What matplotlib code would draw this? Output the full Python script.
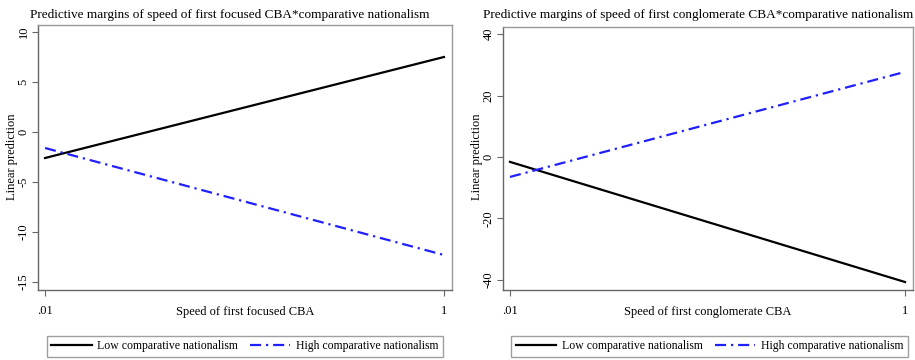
import matplotlib
matplotlib.use("Agg")
import matplotlib.pyplot as plt

plt.rcParams["font.family"] = ["Liberation Serif", "DejaVu Serif"]

speed = [0.01, 1]
speed_labels = [".01", "1"]

# focused CBA
focused_low = [-2.6, 7.5]
focused_high = [-1.6, -12.3]
focused_yticks = [10, 5, 0, -5, -10, -15]

# conglomerate CBA
conglom_low = [-1.6, -40.7]
conglom_high = [-6.5, 27.7]
conglom_yticks = [40, 20, 0, -20, -40]

W, H = 915, 360
fig = plt.figure(figsize=(W / 100, H / 100), dpi=100)
fig.patch.set_facecolor("white")

blue_style = (0, (5, 2.2, 1, 2.2))


def panel(rect, low, high, yticks, ylim, title, xlabel, leg_rect, ylab_x, title_x):
    x0, y0, x1, y1 = rect
    ax = fig.add_axes([x0 / W, 1 - y1 / H, (x1 - x0) / W, (y1 - y0) / H])
    ax.plot(speed, low, color="black", lw=1.6, label="Low comparative nationalism")
    ax.plot(speed, high, color="#2020ff", lw=1.6, linestyle=blue_style,
            label="High comparative nationalism")
    ax.set_xlim(-0.0075, 1.02)
    ax.set_ylim(*ylim)
    ax.set_xticks(speed)
    ax.set_xticklabels(speed_labels)
    ax.set_yticks(yticks)
    ax.set_yticklabels([str(t) for t in yticks], rotation=90, va="center")
    ax.tick_params(length=4, width=0.8, color="#666666", labelsize=9, pad=2)
    ax.tick_params(axis="x", pad=7)
    for s in ["left", "bottom"]:
        ax.spines[s].set_color("#666666")
        ax.spines[s].set_linewidth(1.0)
    for s in ["top", "right"]:
        ax.spines[s].set_color("#999999")
        ax.spines[s].set_linewidth(1.0)
    ax.xaxis.set_label_coords(0.5, -0.06)
    ax.set_xlabel(xlabel, fontsize=9)
    fig.text(ylab_x / W, 1 - 157 / H, "Linear prediction", rotation=90,
             ha="center", va="center", fontsize=9)
    fig.text(title_x / W, 1 - 15 / H, title, ha="center", va="center", fontsize=9.5)
    lx0, ly0, lx1, ly1 = leg_rect
    leg = ax.legend(loc="center", ncol=2,
                    bbox_to_anchor=((lx0 + lx1) / 2 / W, 1 - (ly0 + ly1) / 2 / H),
                    bbox_transform=fig.transFigure, fontsize=8.5, frameon=True,
                    fancybox=False, borderaxespad=0, handlelength=3.4,
                    handletextpad=0.5, borderpad=0.4, columnspacing=1.0)
    leg.get_frame().set_edgecolor("#888888")
    leg.get_frame().set_linewidth(1.0)
    return ax


panel((38, 25, 452, 290), focused_low, focused_high, focused_yticks, (-15.8, 10.7),
      "Predictive margins of speed of first focused CBA*comparative nationalism",
      "Speed of first focused CBA", (42, 334, 448, 359), 12, 230)

panel((503, 27, 913, 290), conglom_low, conglom_high, conglom_yticks, (-43.3, 42.3),
      "Predictive margins of speed of first conglomerate CBA*comparative nationalism",
      "Speed of first conglomerate CBA", (507, 334, 912, 359), 477, 698)

fig.savefig("out.png", dpi=100, facecolor="white")
